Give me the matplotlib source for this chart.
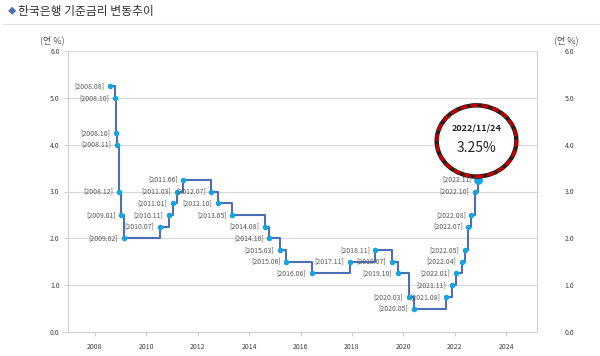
import pandas as pd
import matplotlib
matplotlib.use('Agg')
import matplotlib.pyplot as plt
from matplotlib.patches import Ellipse

plt.rcParams['font.family'] = ['Noto Sans CJK KR', 'DejaVu Sans']

# base rate changes (date of decision, new rate %)
dates = ['2008-08-07', '2008-10-09', '2008-10-27', '2008-11-07', '2008-12-11',
         '2009-01-09', '2009-02-12', '2010-07-09', '2010-11-16', '2011-01-13',
         '2011-03-10', '2011-06-10', '2012-07-12', '2012-10-11', '2013-05-09',
         '2014-08-14', '2014-10-15', '2015-03-12', '2015-06-11', '2016-06-09',
         '2017-11-30', '2018-11-30', '2019-07-18', '2019-10-16', '2020-03-16',
         '2020-05-28', '2021-08-26', '2021-11-25', '2022-01-14', '2022-04-14',
         '2022-05-26', '2022-07-13', '2022-08-25', '2022-10-12', '2022-11-24']
rates = [5.25, 5.00, 4.25, 4.00, 3.00,
         2.50, 2.00, 2.25, 2.50, 2.75,
         3.00, 3.25, 3.00, 2.75, 2.50,
         2.25, 2.00, 1.75, 1.50, 1.25,
         1.50, 1.75, 1.50, 1.25, 0.75,
         0.50, 0.75, 1.00, 1.25, 1.50,
         1.75, 2.25, 2.50, 3.00, 3.25]
yticks = [0, 1, 2, 3, 4, 5, 6]
xticks = [2008, 2010, 2012, 2014, 2016, 2018, 2020, 2022, 2024]
title = '한국은행 기준금리 변동추이'
unit = '(연 %)'
callout_date = '2022/11/24'
callout_rate = '3.25%'

d = pd.to_datetime(pd.Series(dates))
x = (d.dt.year + (d.dt.dayofyear - 1) / (365 + d.dt.is_leap_year.astype(int))).tolist()
labels = ['[' + s[:4] + '.' + s[5:7] + ']' for s in dates]

line_c = '#4f6fb4'
dot_c = '#14a5e6'
grid_c = '#d9d9d9'
txt_c = '#595959'

fig = plt.figure(figsize=(6, 3.56), dpi=100)
ax = fig.add_axes([68/600, 24/356, (537-68)/600, (332-51)/356])

ax.step(x, rates, where='post', color=line_c, lw=1.5, zorder=3)
ax.scatter(x[:-1], rates[:-1], s=16, color=dot_c, zorder=4, linewidths=0)
ax.scatter(x[-1:], rates[-1:], s=40, color=dot_c, zorder=4, linewidths=0)

for xi, yi, lab in zip(x, rates, labels):
    ax.annotate(lab, (xi, yi), xytext=(-4, 0), textcoords='offset points',
                ha='right', va='center', fontsize=5, color=txt_c, zorder=8)

ax.set_xlim(2006.95, 2025.2)
ax.set_ylim(0, 6)
ax.set_xticks(xticks)
ax.set_yticks(yticks)
ax.set_yticklabels([f'{v:.1f}' for v in yticks])
ax.tick_params(axis='both', labelsize=5, colors='#d0d0d0', labelcolor='#404040',
               length=3, width=0.8, pad=3)
ax.tick_params(axis='x', pad=5)
ax.grid(axis='y', color=grid_c, lw=0.8)
ax.set_axisbelow(True)
ax.spines['top'].set_visible(False)
for s in ['left', 'bottom', 'right']:
    ax.spines[s].set_color('#d0d0d0')
    ax.spines[s].set_linewidth(0.8)

ax2 = ax.twinx()
ax2.set_ylim(0, 6)
ax2.set_yticks(yticks)
ax2.set_yticklabels([f'{v:.1f}' for v in yticks])
ax2.tick_params(axis='y', labelsize=5, labelcolor='#404040', length=0, pad=20)
for s in ax2.spines.values():
    s.set_visible(False)

# callout circle above the last point
cx, cy = x[-1] - 0.05, rates[-1] + 0.83
ax.add_patch(Ellipse((cx, cy), 3.1, 1.52, facecolor='white', edgecolor='#202020',
                     lw=3.2, zorder=6))
ax.add_patch(Ellipse((cx, cy), 3.1, 1.52, facecolor='none', edgecolor='#c00000',
                     lw=2.4, ls=(0, (2.2, 1.0)), zorder=7))
ax.text(cx, cy + 0.27, callout_date, ha='center', va='center', fontsize=6.5,
        fontweight='bold', color='#262626', zorder=8)
ax.text(cx, cy - 0.15, callout_rate, ha='center', va='center', fontsize=10,
        color='#262626', zorder=8)

fig.text(8/600, 1 - 12/356, '◆', fontsize=6, color='#4f6fb4', va='center', ha='left')
fig.text(18/600, 1 - 12/356, title, fontsize=8.5, color='#333333', va='center', ha='left')
fig.add_artist(plt.Line2D([3/600, 1], [1 - 24/356, 1 - 24/356], color='#e4e4e4', lw=0.8))
fig.text(52/600, 1 - 40/356, unit, fontsize=6.5, color='#595959', va='center', ha='center')
fig.text(566/600, 1 - 40/356, unit, fontsize=6.5, color='#595959', va='center', ha='center')

fig.savefig('out.png', dpi=100)
